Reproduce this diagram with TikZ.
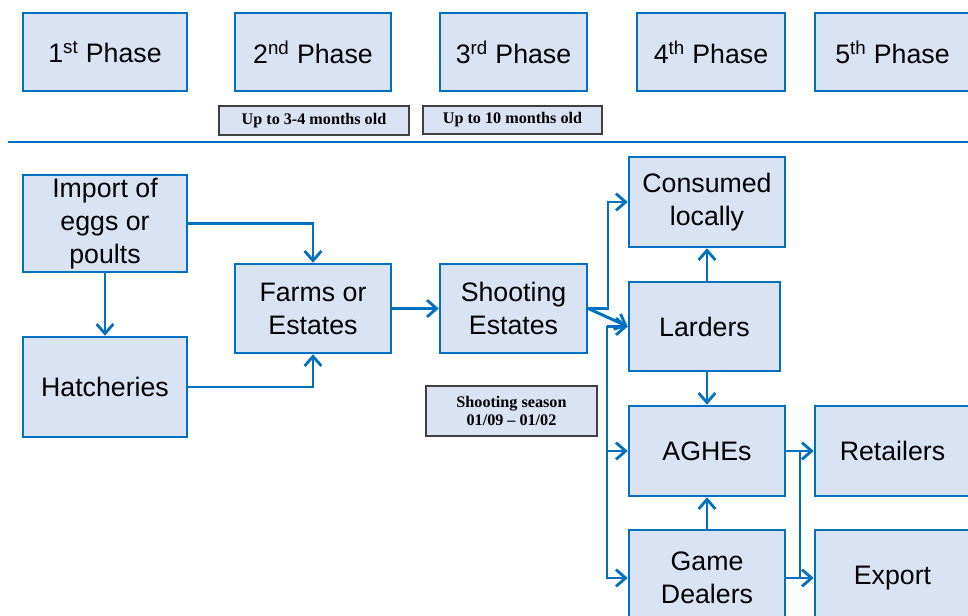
\documentclass[tikz,border=0pt]{standalone}
\usepackage{fontspec}
\setmainfont{Liberation Serif}
\setsansfont{Liberation Sans}
\usepackage{tikz}
\usetikzlibrary{arrows.meta}
\usetikzlibrary{positioning}

\definecolor{lineblue}{RGB}{0,112,192}
\definecolor{boxfill}{RGB}{218,227,243}
\definecolor{labelgray}{RGB}{64,64,64}

\tikzset{
  stage/.style={draw=lineblue, fill=boxfill, line width=1.8pt, inner sep=0pt,
                align=center, font=\sffamily\fontsize{19}{23.5}\selectfont},
  tag/.style={draw=labelgray, fill=boxfill, line width=1pt, inner sep=0pt,
              align=center, font=\bfseries\fontsize{11.5}{12.5}\selectfont},
  wire/.style={draw=lineblue, line width=2.1pt},
  flow/.style={wire, -{Straight Barb[length=2.4mm,width=4.2mm,line width=2pt]}}
}

\begin{document}
\begin{tikzpicture}[x=0.025cm, y=-0.025cm]
  \useasboundingbox (0,0) rectangle (968,616);
  \clip (0,0) rectangle (968,616);

  % phases
  \node[stage, minimum width=4.1cm, minimum height=1.95cm] (ph1) at (105,52) {1\textsuperscript{st} Phase};
  \node[stage, minimum width=3.9cm, minimum height=1.95cm] (ph2) at (313,52) {2\textsuperscript{nd} Phase};
  \node[stage, minimum width=3.675cm, minimum height=1.95cm] (ph3) at (513.5,52) {3\textsuperscript{rd} Phase};
  \node[stage, minimum width=3.7cm, minimum height=1.95cm] (ph4) at (711,52) {4\textsuperscript{th} Phase};
  \node[stage, minimum width=3.875cm, minimum height=1.95cm] (ph5) at (892.5,52) {5\textsuperscript{th} Phase};

  \node[tag, minimum width=4.75cm, minimum height=0.725cm] (age1) at (314,120.5) {Up to 3-4 months old};
  \node[tag, minimum width=4.475cm, minimum height=0.7cm] (age2) at (512.5,120) {Up to 10 months old};

  \draw[lineblue, line width=1.8pt] (8,142) -- (968,142);

  % supply chain
  \node[stage, minimum width=4.1cm, minimum height=2.425cm] (import) at (105,223.5) {Import of\\eggs or\\poults};
  \node[stage, minimum width=4.1cm, minimum height=2.5cm] (hatch) at (105,387) {Hatcheries};
  \node[stage, minimum width=3.9cm, minimum height=2.225cm] (farms) at (313,308.5) {Farms or\\Estates};
  \node[stage, minimum width=3.675cm, minimum height=2.225cm] (shoot) at (513.5,308.5) {Shooting\\Estates};
  \node[tag, minimum width=4.275cm, minimum height=1.25cm] (season) at (511.5,411) {Shooting season\\01/09 -- 01/02};

  \node[stage, minimum width=3.9cm, minimum height=2.25cm] (consumed) at (707,202) {Consumed\\locally};
  \node[stage, minimum width=3.775cm, minimum height=2.225cm] (larders) at (704.5,326.5) {Larders};
  \node[stage, minimum width=3.9cm, minimum height=2.25cm] (aghe) at (707,451) {AGHEs};
  \node[stage, minimum width=3.9cm, minimum height=2.4cm] (dealers) at (707,578) {Game\\Dealers};
  \node[stage, minimum width=3.875cm, minimum height=2.25cm] (retail) at (892.5,451) {Retailers};
  \node[stage, minimum width=3.875cm, minimum height=2.4cm] (export) at (892.5,578) {Export};

  \coordinate (busup) at (608,308.5);
  \coordinate (buslow) at (607,326.5);
  \coordinate (joinup) at (800,451);
  \coordinate (joinlow) at (800,578);

  \draw[flow] (import) -- (hatch);
  \draw[flow] (import.east) -| (farms.north);
  \draw[flow] (hatch.east) -| (farms.south);
  \draw[flow] (farms) -- (shoot);

  \draw[flow] (shoot.east) -- (busup) |- (consumed.west);
  \draw[flow] (shoot.east) -- (larders.west);
  \draw[flow] (buslow) -- (larders.west);
  \draw[flow] (buslow) |- (aghe.west);
  \draw[flow] (buslow) |- (dealers.west);

  \draw[flow] (consumed.south |- larders.north) -- (consumed.south);
  \draw[flow] (aghe.north |- larders.south) -- (aghe.north);
  \draw[flow] (dealers) -- (aghe);

  \draw[flow] (aghe) -- (retail);
  \draw[flow] (dealers) -- (export);
  \draw[wire] (joinup) -- (joinlow);
\end{tikzpicture}
\end{document}
